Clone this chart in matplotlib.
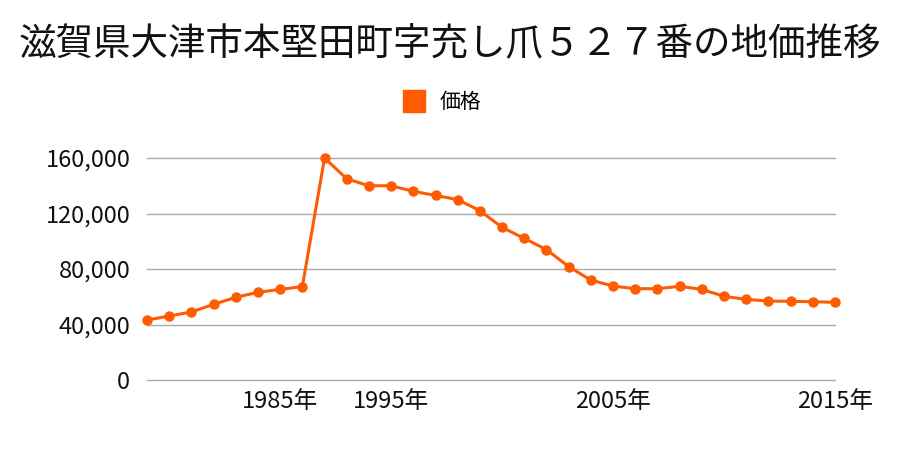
import matplotlib
matplotlib.use('Agg')
import matplotlib.pyplot as plt
from matplotlib.ticker import FuncFormatter

plt.rcParams['font.family'] = ['Noto Sans CJK JP', 'DejaVu Sans']

# Data
years = [1979, 1980, 1981, 1982, 1983, 1984, 1985,
         1986, 1990, 1993, 1994,
         1995, 1996, 1997, 1998, 1999, 2000, 2001, 2002, 2003, 2004,
         2005, 2006, 2007, 2008, 2009, 2010, 2011, 2012, 2013, 2014, 2015]
prices = [43200, 46100, 49000, 54500, 59600, 63200, 65300,
          67300, 160000, 145000, 140000,
          140000, 136000, 133000, 130000, 122000, 110000, 102000, 94000, 81700, 72000,
          67700, 65800, 65800, 67500, 65300, 60300, 58100, 56900, 56700, 56400, 56000]
shown_years = [1985, 1995, 2005, 2015]
title = '滋賀県大津市本堅田町字充し爪５２７番の地価推移'

color = '#ff5b00'

fig = plt.figure(figsize=(9, 4.5), dpi=100)
ax = fig.add_axes([147 / 900, 1 - 380 / 450, (835 - 147) / 900, (380 - 158) / 450])

x = list(range(len(years)))
ax.plot(x, prices, '-o', color=color, linewidth=2.2, markersize=6.5, clip_on=False, zorder=3,
        label='価格')

# Limits
ax.set_xlim(0, len(years) - 1)
ax.set_ylim(0, 160000)

# Ticks
ax.set_yticks([0, 40000, 80000, 120000, 160000])
ax.yaxis.set_major_formatter(FuncFormatter(lambda v, p: f'{int(v):,}'))
ax.set_xticks([years.index(y) for y in shown_years])
ax.set_xticklabels([f'{y}年' for y in shown_years])
ax.tick_params(axis='both', length=0, labelsize=17, colors='#111111')
ax.tick_params(axis='y', pad=12)
ax.tick_params(axis='x', pad=7)

# Style
for side in ['top', 'bottom', 'left', 'right']:
    ax.spines[side].set_visible(False)
ax.grid(axis='y', color='#aaaaaa', linewidth=1)
for line in ax.get_ygridlines():
    line.set_clip_on(False)
ax.set_axisbelow(True)

fig.text(0.5, 0.9, title, ha='center', va='center', fontsize=27, color='#111111')

handle = plt.Line2D([], [], marker='s', linestyle='none', color=color, markersize=16)
fig.legend([handle], ['価格'], loc='center', bbox_to_anchor=(0.486, 0.773), frameon=False,
           fontsize=15, handletextpad=0.2)

fig.savefig('out.png', dpi=100)
